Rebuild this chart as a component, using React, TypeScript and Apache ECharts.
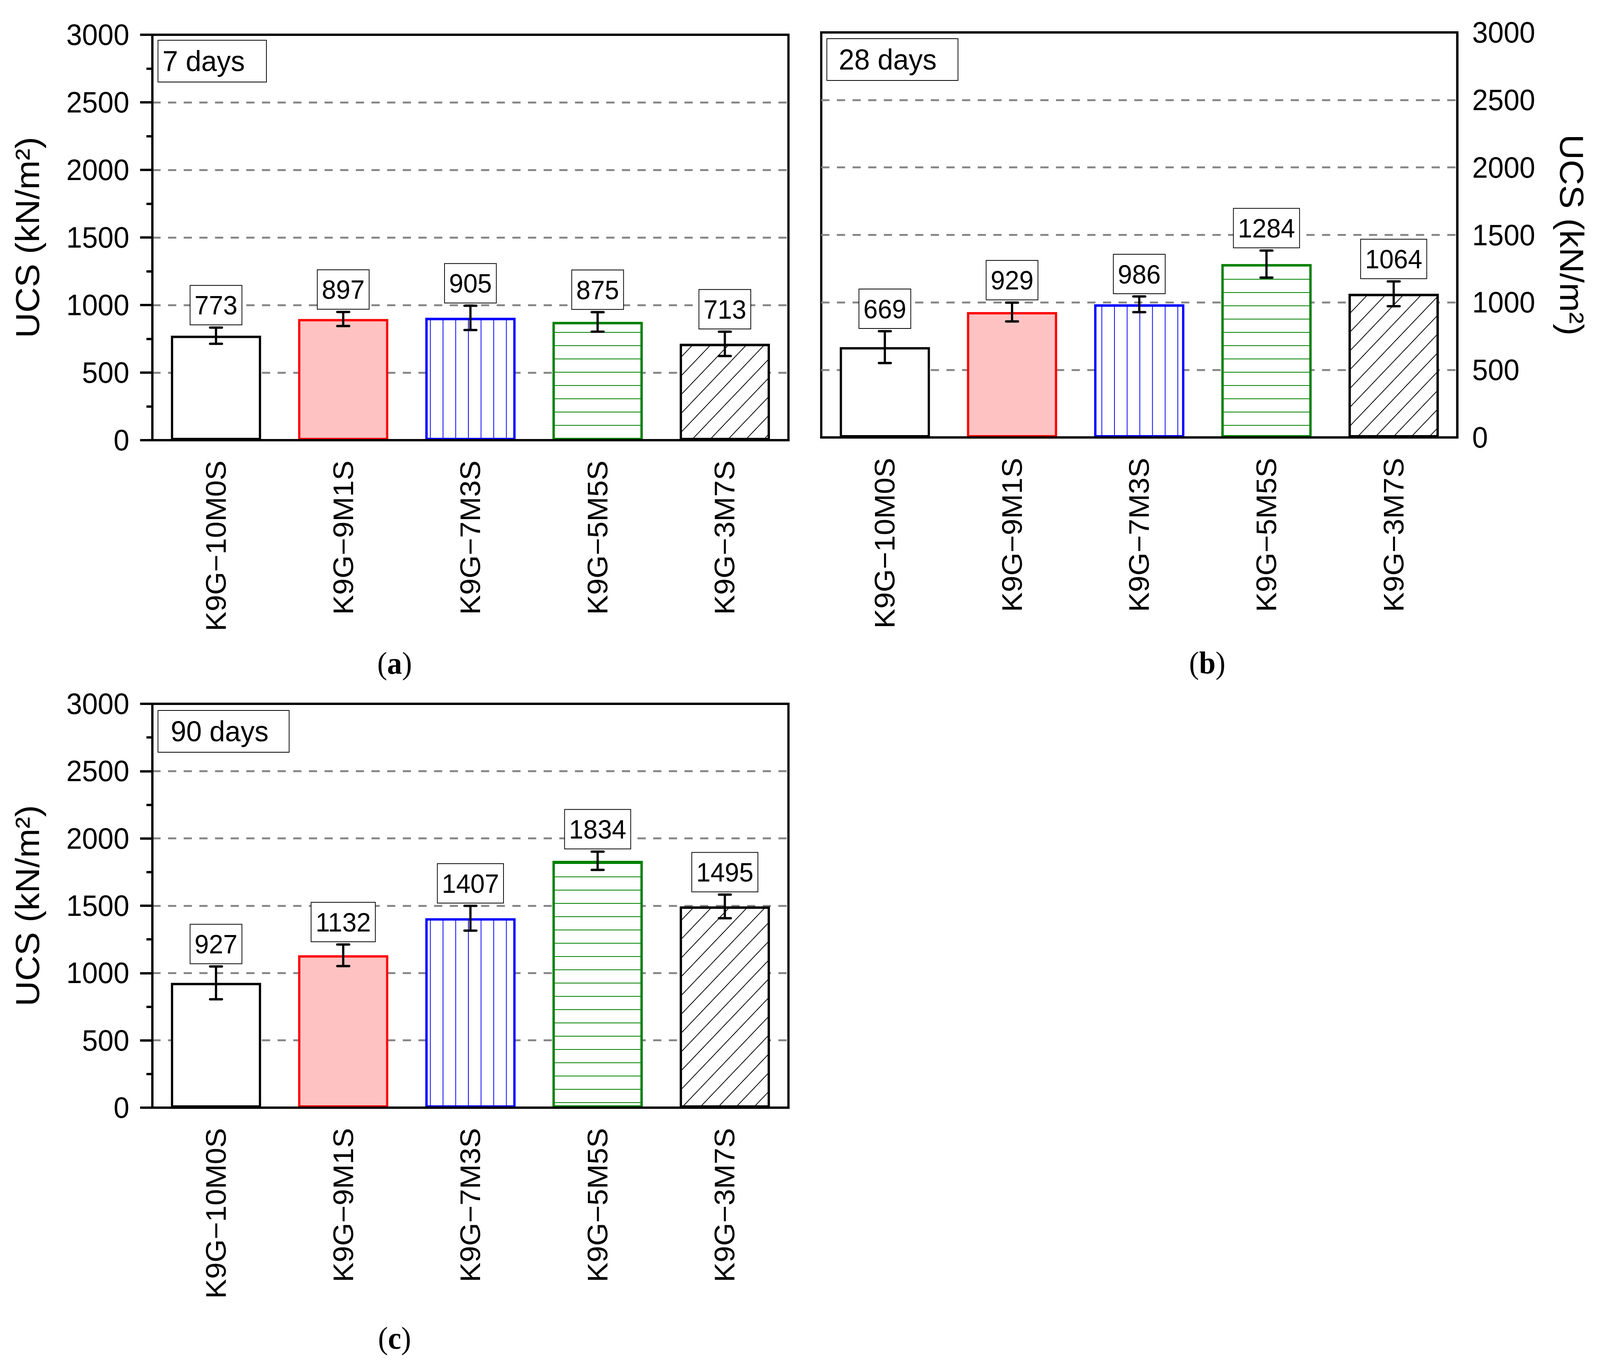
import React, { useEffect, useRef } from 'react';
import * as echarts from 'echarts';

// sample names shared by all three panels
const categories = ['K9G−10M0S', 'K9G−9M1S', 'K9G−7M3S', 'K9G−5M5S', 'K9G−3M7S'];

// UCS (kN/m²) and error (±) per curing age
const ucs7 = [773, 897, 905, 875, 713];
const err7 = [60, 52, 90, 72, 90];
const ucs28 = [669, 929, 986, 1284, 1064];
const err28 = [118, 70, 58, 100, 92];
const ucs90 = [927, 1132, 1407, 1834, 1495];
const err90 = [122, 80, 92, 68, 88];

const panelLabels = ['7 days', '28 days', '90 days'];
const captions = ['a', 'b', 'c'];
const yName = 'UCS (kN/m²)';

// design size of the figure
const W = 4294;
const H = 3500;

const FONT = '"Liberation Sans", Arial, sans-serif';
const SERIF = '"Liberation Serif", "Times New Roman", serif';

const stripe = (color: string, rotation: number) => ({
  symbol: 'rect',
  symbolSize: 1,
  dashArrayX: [1, 0],
  dashArrayY: [2, 32],
  rotation,
  color,
});

const barStyles = [
  { color: '#ffffff', borderColor: '#000000' },
  { color: '#FFC2C2', borderColor: '#FF0000' },
  { color: '#ffffff', borderColor: '#0000FF', decal: stripe('#0000FF', Math.PI / 2) },
  { color: '#ffffff', borderColor: '#008000', decal: stripe('#008000', 0) },
  { color: '#ffffff', borderColor: '#000000', decal: stripe('#000000', -Math.PI / 4) },
];

const grids = [
  { left: 409, top: 89, width: 1707, height: 1038 },
  { left: 2204, top: 83, width: 1707, height: 1037 },
  { left: 409, top: 1802, width: 1707, height: 1034 },
];

const renderErr = (params: any, api: any) => {
  const i = api.value(0);
  const v = api.value(1);
  const e = api.value(2);
  const top = api.coord([i, v + e]);
  const bot = api.coord([i, v - e]);
  const half = 16;
  const ls = { stroke: '#000', lineWidth: 6, lineCap: 'round' };
  return {
    type: 'group',
    children: [
      { type: 'line', shape: { x1: top[0], y1: top[1], x2: bot[0], y2: bot[1] }, style: { stroke: '#000', lineWidth: 6 } },
      { type: 'line', shape: { x1: top[0] - half, y1: top[1], x2: top[0] + half, y2: top[1] }, style: ls },
      { type: 'line', shape: { x1: bot[0] - half, y1: bot[1], x2: bot[0] + half, y2: bot[1] }, style: ls },
      {
        type: 'text',
        x: top[0],
        y: top[1] - 8,
        style: {
          text: String(v),
          fontSize: 69,
          fontFamily: FONT,
          fill: '#000',
          align: 'center',
          verticalAlign: 'bottom',
          lineHeight: 69,
          backgroundColor: '#fff',
          borderColor: '#000',
          borderWidth: 2,
          padding: [15, 11, 15, 11],
        },
      },
    ],
  };
};

const App: React.FC = () => {
  const chartRef = useRef<HTMLDivElement>(null);

  // the window may be narrower than the design size: fit the figure into it
  const sx = Math.min(1, window.innerWidth / W);
  const sy = Math.min(1, window.innerHeight / H);

  useEffect(() => {
    if (!chartRef.current) return;
    document.body.style.margin = '0';
    document.body.style.overflow = 'hidden';
    const chart = echarts.init(chartRef.current, undefined, { renderer: 'svg' });

    const values = [ucs7, ucs28, ucs90];
    const errors = [err7, err28, err90];

    const xAxis: any[] = [];
    const yAxis: any[] = [];
    const series: any[] = [];

    grids.forEach((g, p) => {
      xAxis.push({
        type: 'category',
        gridIndex: p,
        data: categories,
        position: 'bottom',
        z: 5,
        axisLine: { lineStyle: { color: '#000', width: 6 } },
        axisTick: { alignWithLabel: true, length: 33, interval: 0, lineStyle: { color: '#000', width: 6 } },
        axisLabel: { rotate: 90, interval: 0, fontSize: 76, margin: 52, color: '#000', fontFamily: FONT },
        splitLine: { show: false },
      });
      // second axis only for the short ticks between the bars
      xAxis.push({
        type: 'category',
        gridIndex: p,
        data: categories,
        position: 'bottom',
        z: 5,
        axisLine: { show: false },
        axisTick: { length: 16, interval: 0, lineStyle: { color: '#000', width: 6 } },
        axisLabel: { show: false },
        splitLine: { show: false },
      });
      const right = p === 1;
      yAxis.push({
        type: 'value',
        gridIndex: p,
        position: right ? 'right' : 'left',
        min: 0,
        max: 3000,
        interval: 500,
        name: yName,
        nameLocation: 'middle',
        nameGap: right ? 262 : 290,
        nameRotate: right ? -90 : 90,
        nameTextStyle: { fontSize: 90, color: '#000', fontFamily: FONT },
        axisLine: { show: true, lineStyle: { color: '#000', width: 6 } },
        axisTick: { show: !right, length: 33, lineStyle: { color: '#000', width: 6 } },
        minorTick: { show: !right, splitNumber: 2, length: 16, lineStyle: { color: '#000', width: 6 } },
        axisLabel: {
          fontSize: 76,
          margin: right ? 40 : 62,
          color: '#000',
          fontFamily: FONT,
          formatter: (v: number) => String(v),
        },
        splitLine: {
          show: true,
          showMinLine: false,
          showMaxLine: false,
          lineStyle: { color: '#888888', width: 5, type: [22, 20] },
        },
      });
      series.push({
        type: 'bar',
        xAxisIndex: p * 2,
        yAxisIndex: p,
        barWidth: 242,
        data: values[p].map((v, i) => ({
          value: v,
          itemStyle: { ...barStyles[i], borderWidth: 6 },
        })),
      });
      series.push({
        type: 'custom',
        xAxisIndex: p * 2,
        yAxisIndex: p,
        z: 10,
        renderItem: renderErr,
        encode: { x: 0, y: 1 },
        data: values[p].map((v, i) => [i, v, errors[p][i]]),
      });
    });

    const titleBoxes = [
      { left: 424, top: 103, padding: [16, 58, 16, 12] },
      { left: 2219, top: 99, padding: [16, 58, 16, 32] },
      { left: 424, top: 1819, padding: [16, 56, 16, 34] },
    ];

    const captionPos = [
      [1059, 1698],
      [3240, 1697],
      [1059, 3426],
    ];

    const option: any = {
      animation: false,
      backgroundColor: '#ffffff',
      title: titleBoxes.map((t, i) => ({
        text: panelLabels[i],
        left: t.left,
        top: t.top,
        padding: t.padding,
        borderColor: '#000',
        borderWidth: 2,
        textStyle: { fontSize: 75, lineHeight: 75, fontWeight: 'normal', color: '#000', fontFamily: FONT },
      })),
      grid: grids.map((g) => ({
        ...g,
        show: true,
        borderColor: '#000',
        borderWidth: 6,
        backgroundColor: 'transparent',
        containLabel: false,
      })),
      xAxis,
      yAxis,
      series,
      graphic: captions.map((c, i) => ({
        type: 'text',
        x: captionPos[i][0],
        y: captionPos[i][1],
        style: {
          text: `{p|(}{b|${c}}{p|)}`,
          align: 'center',
          verticalAlign: 'middle',
          rich: {
            p: { fontSize: 80, fontFamily: SERIF, fill: '#000' },
            b: { fontSize: 80, fontFamily: SERIF, fontWeight: 'bold', fill: '#000' },
          },
        },
      })),
    };

    chart.setOption(option);

    const handleResize = () => chart.resize();
    window.addEventListener('resize', handleResize);
    return () => {
      window.removeEventListener('resize', handleResize);
      chart.dispose();
    };
  }, []);

  return (
    <div
      ref={chartRef}
      style={{
        position: 'fixed',
        left: 0,
        top: 0,
        width: `${W}px`,
        height: `${H}px`,
        background: '#fff',
        transform: `scale(${sx}, ${sy})`,
        transformOrigin: '0 0',
      }}
    />
  );
};

export default App;
